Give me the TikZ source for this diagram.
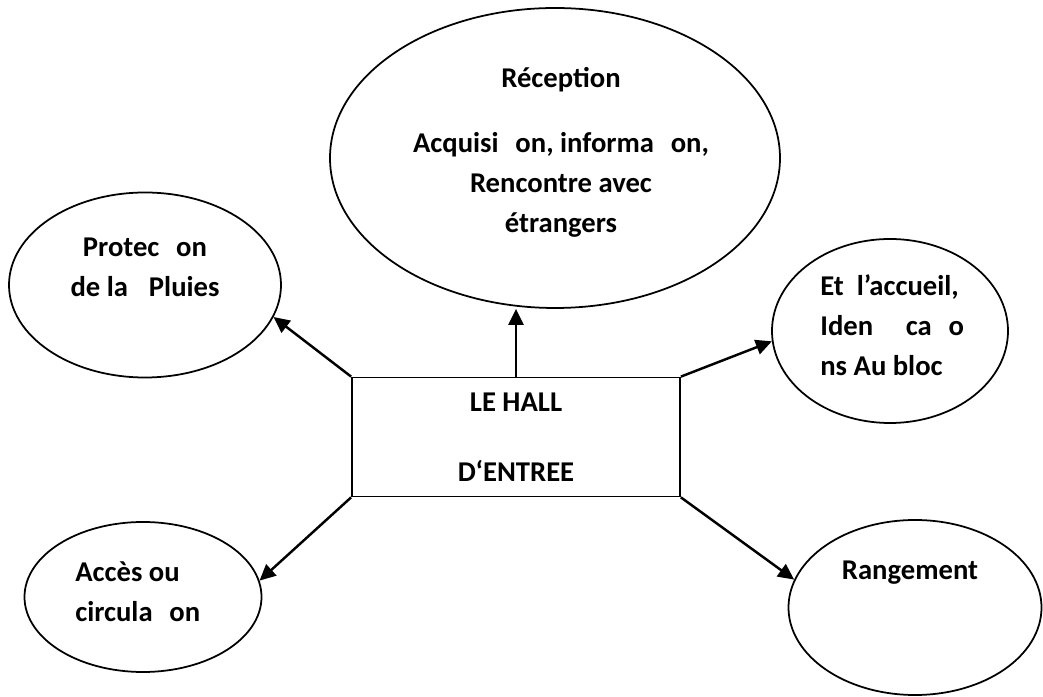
\documentclass[tikz,border=0pt]{standalone}
\usepackage{fontspec}
\setmainfont{Carlito}
\usetikzlibrary{shapes.geometric,positioning,arrows.meta}

\begin{document}
\begin{tikzpicture}[
    bubble/.style={ellipse, draw, line width=1pt, inner sep=0pt},
    hallbox/.style={rectangle, draw, line width=1pt, minimum width=6.56cm, minimum height=2.38cm,
        align=center, font=\fontsize{16.3}{22.8}\selectfont\bfseries},
    label_text/.style={font=\fontsize{16.3}{22.8}\selectfont\bfseries, inner sep=0pt},
    link/.style={-{Triangle[length=0.32cm,width=0.3cm]}, line width=1.4pt}
]
    \useasboundingbox (0,0) rectangle (20.86,13.94);

    % Centre box
    \node[hallbox] (hall) at (10.32, 5.20) {LE HALL\\[0.6cm]D‘ENTREE};

    % Surrounding ellipses
    \node[bubble, minimum width=9cm, minimum height=6cm] (recep) at (11.10, 10.78) {};
    \node[bubble, minimum width=5.44cm, minimum height=3.7cm] (pluie) at (2.90, 8.24) {};
    \node[bubble, minimum width=4.72cm, minimum height=3.68cm] (accueil) at (17.80, 7.32) {};
    \node[bubble, minimum width=4.74cm, minimum height=3cm] (acces) at (2.86, 2.00) {};
    \node[bubble, minimum width=5.06cm, minimum height=3.5cm] (rangement) at (18.30, 1.79) {};

    % Texts
    \node[label_text, align=center] (recep_txt) at (11.22, 10.90)
        {Réception\\[0.5cm]Acquisi\phantom{ti}on, informa\phantom{ti}on,\\Rencontre avec\\étrangers};
    \node[label_text, align=center] (pluie_txt) at (2.90, 8.60)
        {Protec\phantom{ti}on\\de la\hspace{0.42cm}Pluies};
    \node[label_text, align=left, anchor=west] (accueil_txt) at (16.40, 7.44)
        {Et\ \ l’accueil,\\Iden\phantom{tifi}ca\phantom{ti}o\\ns Au bloc};
    \node[label_text, align=left, anchor=west] (acces_txt) at (1.50, 2.10)
        {Accès ou\\circula\phantom{ti}on};
    \node[label_text] (rangement_txt) at (18.20, 2.48) {Rangement};

    % Arrows
    \draw[link] (hall.north west) -- (pluie.-14);
    \draw[link] (hall.north) -- (hall.north |- recep.south);
    \draw[link] (hall.north east) -- (accueil.185);
    \draw[link] (hall.south west) -- (acces.8);
    \draw[link] (hall.south east) -- (rangement.167);
\end{tikzpicture}
\end{document}
